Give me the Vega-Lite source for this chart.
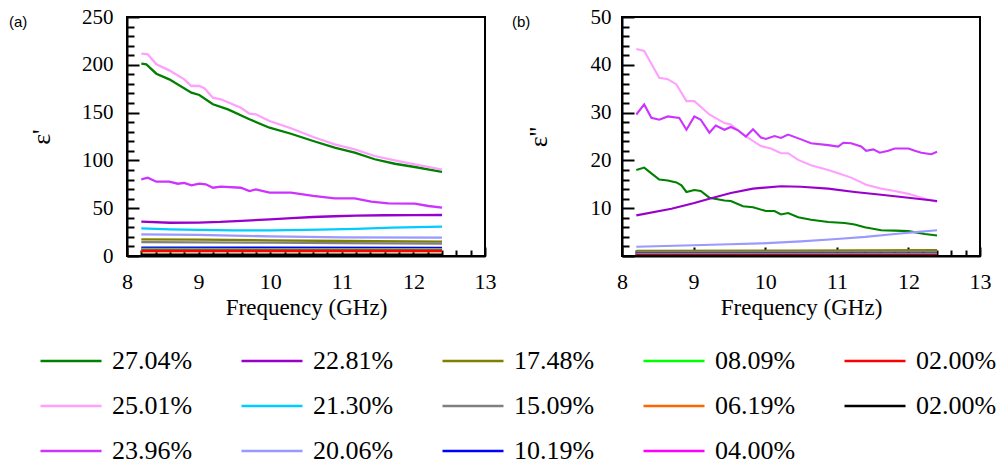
{
  "$schema": "https://vega.github.io/schema/vega-lite/v6.json",
  "autosize": {"type": "pad"},
  "padding": {"left": 8, "top": 5, "right": 0, "bottom": 0},
  "bounds": "flush",
  "spacing": 137,
  "background": "white",
  "datasets": {
    "re": [
      {"s": "27.04%", "f": 8.2, "v": 201.2}, {"s": "27.04%", "f": 8.27, "v": 200.5}, {"s": "27.04%", "f": 8.41, "v": 190.7},
      {"s": "27.04%", "f": 8.59, "v": 184.8}, {"s": "27.04%", "f": 8.9, "v": 170.8}, {"s": "27.04%", "f": 9.01, "v": 168.4},
      {"s": "27.04%", "f": 9.2, "v": 158.7}, {"s": "27.04%", "f": 9.41, "v": 153.4}, {"s": "27.04%", "f": 9.71, "v": 143.0},
      {"s": "27.04%", "f": 9.99, "v": 134.2}, {"s": "27.04%", "f": 10.29, "v": 127.9}, {"s": "27.04%", "f": 10.6, "v": 120.3},
      {"s": "27.04%", "f": 10.9, "v": 113.3}, {"s": "27.04%", "f": 11.18, "v": 108.1}, {"s": "27.04%", "f": 11.46, "v": 101.2},
      {"s": "27.04%", "f": 11.74, "v": 96.5}, {"s": "27.04%", "f": 12.02, "v": 93.1}, {"s": "27.04%", "f": 12.4, "v": 87.9},

      {"s": "25.01%", "f": 8.2, "v": 211.6}, {"s": "25.01%", "f": 8.29, "v": 211.0}, {"s": "25.01%", "f": 8.41, "v": 200.5},
      {"s": "25.01%", "f": 8.59, "v": 194.2}, {"s": "25.01%", "f": 8.8, "v": 184.8}, {"s": "25.01%", "f": 8.9, "v": 177.8},
      {"s": "25.01%", "f": 9.01, "v": 177.8}, {"s": "25.01%", "f": 9.08, "v": 175.4}, {"s": "25.01%", "f": 9.2, "v": 165.6},
      {"s": "25.01%", "f": 9.31, "v": 163.9}, {"s": "25.01%", "f": 9.59, "v": 155.1}, {"s": "25.01%", "f": 9.71, "v": 148.8},
      {"s": "25.01%", "f": 9.8, "v": 148.2}, {"s": "25.01%", "f": 9.99, "v": 141.2}, {"s": "25.01%", "f": 10.29, "v": 133.6},
      {"s": "25.01%", "f": 10.6, "v": 124.5}, {"s": "25.01%", "f": 10.9, "v": 116.8}, {"s": "25.01%", "f": 11.18, "v": 111.6},
      {"s": "25.01%", "f": 11.46, "v": 104.6}, {"s": "25.01%", "f": 11.74, "v": 100.1}, {"s": "25.01%", "f": 12.02, "v": 95.9},
      {"s": "25.01%", "f": 12.4, "v": 90.3},

      {"s": "23.96%", "f": 8.2, "v": 80.2}, {"s": "23.96%", "f": 8.29, "v": 81.9}, {"s": "23.96%", "f": 8.41, "v": 77.7},
      {"s": "23.96%", "f": 8.59, "v": 77.7}, {"s": "23.96%", "f": 8.71, "v": 75.6}, {"s": "23.96%", "f": 8.8, "v": 76.4},
      {"s": "23.96%", "f": 8.9, "v": 73.9}, {"s": "23.96%", "f": 9.01, "v": 75.6}, {"s": "23.96%", "f": 9.1, "v": 75.0},
      {"s": "23.96%", "f": 9.2, "v": 71.4}, {"s": "23.96%", "f": 9.31, "v": 72.5}, {"s": "23.96%", "f": 9.59, "v": 71.4},
      {"s": "23.96%", "f": 9.71, "v": 68.0}, {"s": "23.96%", "f": 9.8, "v": 69.7}, {"s": "23.96%", "f": 9.99, "v": 66.2},
      {"s": "23.96%", "f": 10.29, "v": 66.2}, {"s": "23.96%", "f": 10.6, "v": 62.8}, {"s": "23.96%", "f": 10.9, "v": 60.3},
      {"s": "23.96%", "f": 11.18, "v": 60.3}, {"s": "23.96%", "f": 11.41, "v": 56.8}, {"s": "23.96%", "f": 11.65, "v": 55.1},
      {"s": "23.96%", "f": 12.02, "v": 54.7}, {"s": "23.96%", "f": 12.21, "v": 52.3}, {"s": "23.96%", "f": 12.4, "v": 50.5},

      {"s": "22.81%", "f": 8.2, "v": 35.9}, {"s": "22.81%", "f": 8.6, "v": 34.8}, {"s": "22.81%", "f": 9.0, "v": 35.0},
      {"s": "22.81%", "f": 9.3, "v": 35.6}, {"s": "22.81%", "f": 9.6, "v": 36.8}, {"s": "22.81%", "f": 10.0, "v": 38.4},
      {"s": "22.81%", "f": 10.3, "v": 39.7}, {"s": "22.81%", "f": 10.6, "v": 40.8}, {"s": "22.81%", "f": 10.9, "v": 41.6},
      {"s": "22.81%", "f": 11.2, "v": 42.2}, {"s": "22.81%", "f": 11.6, "v": 42.6}, {"s": "22.81%", "f": 12.0, "v": 42.8},
      {"s": "22.81%", "f": 12.4, "v": 42.9},

      {"s": "21.30%", "f": 8.2, "v": 29.0}, {"s": "21.30%", "f": 8.6, "v": 27.9}, {"s": "21.30%", "f": 9.0, "v": 27.4},
      {"s": "21.30%", "f": 9.5, "v": 26.9}, {"s": "21.30%", "f": 10.0, "v": 26.8}, {"s": "21.30%", "f": 10.7, "v": 27.5},
      {"s": "21.30%", "f": 11.2, "v": 28.4}, {"s": "21.30%", "f": 11.7, "v": 29.6}, {"s": "21.30%", "f": 12.4, "v": 30.7},

      {"s": "20.06%", "f": 8.2, "v": 22.7}, {"s": "20.06%", "f": 9.0, "v": 22.0}, {"s": "20.06%", "f": 10.0, "v": 20.6},
      {"s": "20.06%", "f": 11.0, "v": 19.5}, {"s": "20.06%", "f": 12.4, "v": 19.2},

      {"s": "17.48%", "f": 8.2, "v": 17.4}, {"s": "17.48%", "f": 9.0, "v": 17.1}, {"s": "17.48%", "f": 10.0, "v": 16.4},
      {"s": "17.48%", "f": 11.0, "v": 15.7}, {"s": "17.48%", "f": 12.4, "v": 15.0},

      {"s": "15.09%", "f": 8.2, "v": 14.6}, {"s": "15.09%", "f": 10.0, "v": 14.0}, {"s": "15.09%", "f": 11.0, "v": 13.5},
      {"s": "15.09%", "f": 12.4, "v": 13.0},

      {"s": "10.19%", "f": 8.2, "v": 8.7}, {"s": "10.19%", "f": 12.4, "v": 8.5},
      {"s": "08.09%", "f": 8.2, "v": 7.3}, {"s": "08.09%", "f": 12.4, "v": 7.1},
      {"s": "06.19%", "f": 8.2, "v": 4.9}, {"s": "06.19%", "f": 12.4, "v": 4.8},
      {"s": "04.00%", "f": 8.2, "v": 6.1}, {"s": "04.00%", "f": 12.4, "v": 6.0},
      {"s": "02.00%", "f": 8.2, "v": 5.4}, {"s": "02.00%", "f": 12.4, "v": 5.3},
      {"s": "02.00% ", "f": 8.2, "v": 1.3}, {"s": "02.00% ", "f": 12.4, "v": 1.3}
    ],
    "im": [
      {"s": "27.04%", "f": 8.2, "v": 18.0}, {"s": "27.04%", "f": 8.31, "v": 18.5}, {"s": "27.04%", "f": 8.41, "v": 17.3},
      {"s": "27.04%", "f": 8.52, "v": 16.0}, {"s": "27.04%", "f": 8.64, "v": 15.8}, {"s": "27.04%", "f": 8.76, "v": 15.4},
      {"s": "27.04%", "f": 8.83, "v": 14.8}, {"s": "27.04%", "f": 8.9, "v": 13.4}, {"s": "27.04%", "f": 9.01, "v": 13.8},
      {"s": "27.04%", "f": 9.1, "v": 13.6}, {"s": "27.04%", "f": 9.22, "v": 12.2}, {"s": "27.04%", "f": 9.43, "v": 11.6},
      {"s": "27.04%", "f": 9.52, "v": 11.5}, {"s": "27.04%", "f": 9.69, "v": 10.4}, {"s": "27.04%", "f": 9.83, "v": 10.2},
      {"s": "27.04%", "f": 10.01, "v": 9.4}, {"s": "27.04%", "f": 10.13, "v": 9.4}, {"s": "27.04%", "f": 10.22, "v": 8.7},
      {"s": "27.04%", "f": 10.32, "v": 9.0}, {"s": "27.04%", "f": 10.46, "v": 8.1}, {"s": "27.04%", "f": 10.64, "v": 7.6},
      {"s": "27.04%", "f": 10.88, "v": 7.1}, {"s": "27.04%", "f": 11.11, "v": 6.9}, {"s": "27.04%", "f": 11.25, "v": 6.6},
      {"s": "27.04%", "f": 11.39, "v": 6.0}, {"s": "27.04%", "f": 11.62, "v": 5.4}, {"s": "27.04%", "f": 11.81, "v": 5.3},
      {"s": "27.04%", "f": 12.0, "v": 5.2}, {"s": "27.04%", "f": 12.23, "v": 4.6}, {"s": "27.04%", "f": 12.4, "v": 4.3},

      {"s": "25.01%", "f": 8.2, "v": 43.3}, {"s": "25.01%", "f": 8.31, "v": 42.9}, {"s": "25.01%", "f": 8.52, "v": 37.3},
      {"s": "25.01%", "f": 8.64, "v": 37.0}, {"s": "25.01%", "f": 8.76, "v": 35.9}, {"s": "25.01%", "f": 8.9, "v": 32.4},
      {"s": "25.01%", "f": 9.01, "v": 32.4}, {"s": "25.01%", "f": 9.22, "v": 29.6}, {"s": "25.01%", "f": 9.43, "v": 27.8},
      {"s": "25.01%", "f": 9.52, "v": 27.5}, {"s": "25.01%", "f": 9.73, "v": 25.0}, {"s": "25.01%", "f": 9.94, "v": 23.0},
      {"s": "25.01%", "f": 10.08, "v": 22.5}, {"s": "25.01%", "f": 10.22, "v": 21.5}, {"s": "25.01%", "f": 10.32, "v": 21.5},
      {"s": "25.01%", "f": 10.46, "v": 20.1}, {"s": "25.01%", "f": 10.64, "v": 19.0}, {"s": "25.01%", "f": 10.88, "v": 18.0},
      {"s": "25.01%", "f": 11.02, "v": 17.3}, {"s": "25.01%", "f": 11.2, "v": 16.4}, {"s": "25.01%", "f": 11.41, "v": 14.9},
      {"s": "25.01%", "f": 11.62, "v": 14.1}, {"s": "25.01%", "f": 11.81, "v": 13.6}, {"s": "25.01%", "f": 12.0, "v": 13.0},
      {"s": "25.01%", "f": 12.23, "v": 12.0}, {"s": "25.01%", "f": 12.4, "v": 11.3},

      {"s": "23.96%", "f": 8.2, "v": 29.6}, {"s": "23.96%", "f": 8.31, "v": 31.7}, {"s": "23.96%", "f": 8.41, "v": 28.9},
      {"s": "23.96%", "f": 8.52, "v": 28.5}, {"s": "23.96%", "f": 8.64, "v": 29.2}, {"s": "23.96%", "f": 8.8, "v": 28.9},
      {"s": "23.96%", "f": 8.9, "v": 26.4}, {"s": "23.96%", "f": 9.01, "v": 29.2}, {"s": "23.96%", "f": 9.1, "v": 28.5},
      {"s": "23.96%", "f": 9.22, "v": 25.8}, {"s": "23.96%", "f": 9.31, "v": 27.3}, {"s": "23.96%", "f": 9.43, "v": 26.4},
      {"s": "23.96%", "f": 9.52, "v": 27.0}, {"s": "23.96%", "f": 9.62, "v": 26.3}, {"s": "23.96%", "f": 9.73, "v": 25.0},
      {"s": "23.96%", "f": 9.83, "v": 26.5}, {"s": "23.96%", "f": 9.94, "v": 24.8}, {"s": "23.96%", "f": 10.01, "v": 24.5},
      {"s": "23.96%", "f": 10.13, "v": 25.1}, {"s": "23.96%", "f": 10.22, "v": 24.7}, {"s": "23.96%", "f": 10.32, "v": 25.4},
      {"s": "23.96%", "f": 10.5, "v": 24.4}, {"s": "23.96%", "f": 10.64, "v": 23.6}, {"s": "23.96%", "f": 10.88, "v": 23.2},
      {"s": "23.96%", "f": 11.02, "v": 22.9}, {"s": "23.96%", "f": 11.09, "v": 23.7}, {"s": "23.96%", "f": 11.2, "v": 23.6},
      {"s": "23.96%", "f": 11.34, "v": 22.9}, {"s": "23.96%", "f": 11.41, "v": 22.0}, {"s": "23.96%", "f": 11.51, "v": 22.3},
      {"s": "23.96%", "f": 11.6, "v": 21.6}, {"s": "23.96%", "f": 11.72, "v": 22.0}, {"s": "23.96%", "f": 11.81, "v": 22.5},
      {"s": "23.96%", "f": 12.0, "v": 22.5}, {"s": "23.96%", "f": 12.09, "v": 22.0}, {"s": "23.96%", "f": 12.18, "v": 21.6},
      {"s": "23.96%", "f": 12.32, "v": 21.3}, {"s": "23.96%", "f": 12.4, "v": 21.8},

      {"s": "22.81%", "f": 8.2, "v": 8.5}, {"s": "22.81%", "f": 8.69, "v": 9.9}, {"s": "22.81%", "f": 9.01, "v": 11.1},
      {"s": "22.81%", "f": 9.22, "v": 12.0}, {"s": "22.81%", "f": 9.52, "v": 13.2}, {"s": "22.81%", "f": 9.83, "v": 14.1},
      {"s": "22.81%", "f": 10.22, "v": 14.6}, {"s": "22.81%", "f": 10.5, "v": 14.5}, {"s": "22.81%", "f": 10.88, "v": 14.1},
      {"s": "22.81%", "f": 11.25, "v": 13.4}, {"s": "22.81%", "f": 11.62, "v": 12.8}, {"s": "22.81%", "f": 12.0, "v": 12.2},
      {"s": "22.81%", "f": 12.4, "v": 11.5},

      {"s": "21.30%", "f": 8.2, "v": 1.0}, {"s": "21.30%", "f": 10.3, "v": 1.0}, {"s": "21.30%", "f": 12.4, "v": 1.05},

      {"s": "20.06%", "f": 8.2, "v": 1.95}, {"s": "20.06%", "f": 8.6, "v": 2.1}, {"s": "20.06%", "f": 9.0, "v": 2.25},
      {"s": "20.06%", "f": 9.5, "v": 2.45}, {"s": "20.06%", "f": 9.94, "v": 2.64}, {"s": "20.06%", "f": 10.5, "v": 3.05},
      {"s": "20.06%", "f": 11.0, "v": 3.55}, {"s": "20.06%", "f": 11.4, "v": 4.0}, {"s": "20.06%", "f": 11.81, "v": 4.6},
      {"s": "20.06%", "f": 12.1, "v": 5.0}, {"s": "20.06%", "f": 12.4, "v": 5.4},

      {"s": "17.48%", "f": 8.2, "v": 1.1}, {"s": "17.48%", "f": 10.3, "v": 1.15}, {"s": "17.48%", "f": 12.4, "v": 1.25},
      {"s": "15.09%", "f": 8.2, "v": 0.85}, {"s": "15.09%", "f": 12.4, "v": 0.9},
      {"s": "10.19%", "f": 8.2, "v": 0.5}, {"s": "10.19%", "f": 12.4, "v": 0.5},
      {"s": "08.09%", "f": 8.2, "v": 0.4}, {"s": "08.09%", "f": 12.4, "v": 0.4},
      {"s": "06.19%", "f": 8.2, "v": 0.3}, {"s": "06.19%", "f": 12.4, "v": 0.3},
      {"s": "04.00%", "f": 8.2, "v": 0.25}, {"s": "04.00%", "f": 12.4, "v": 0.25},
      {"s": "02.00%", "f": 8.2, "v": 0.15}, {"s": "02.00%", "f": 12.4, "v": 0.15},
      {"s": "02.00% ", "f": 8.2, "v": 0.05}, {"s": "02.00% ", "f": 12.4, "v": 0.05}
    ]
  },
  "hconcat": [
    {
      "width": 358,
      "height": 239,
      "title": {"text": "(a)", "anchor": "start", "frame": "group", "dx": -118, "dy": 31, "baseline": "middle", "offset": 0, "font": "Liberation Sans", "fontSize": 15, "fontWeight": "normal", "color": "black"},
      "data": {"name": "re"},
      "mark": {"type": "line", "strokeWidth": 2.3, "clip": true},
      "encoding": {
        "x": {
          "field": "f", "type": "quantitative",
          "scale": {"domain": [8, 13], "nice": false, "zero": false},
          "axis": {
            "title": "Frequency (GHz)",
            "values": [8, 8.2, 8.4, 8.6, 8.8, 9, 9.2, 9.4, 9.6, 9.8, 10, 10.2, 10.4, 10.6, 10.8, 11, 11.2, 11.4, 11.6, 11.8, 12, 12.2, 12.4, 12.6, 12.8, 13],
            "labelExpr": "abs(datum.value - round(datum.value)) < 0.01 ? format(datum.value, 'd') : ''",
            "tickSize": {"condition": {"test": "abs(datum.value - round(datum.value)) < 0.01", "value": -9}, "value": -6}
          }
        },
        "y": {
          "field": "v", "type": "quantitative",
          "scale": {"domain": [0, 250], "nice": false},
          "axis": {
            "title": "ε'",
            "titlePadding": 27,
            "labelPadding": 26,
            "values": [0, 10, 20, 30, 40, 50, 60, 70, 80, 90, 100, 110, 120, 130, 140, 150, 160, 170, 180, 190, 200, 210, 220, 230, 240, 250],
            "labelExpr": "datum.value % 50 === 0 ? format(datum.value, 'd') : ''",
            "tickSize": {"condition": {"test": "datum.value % 50 === 0", "value": -12}, "value": -7}
          }
        },
        "color": {
          "field": "s", "type": "nominal",
          "scale": {
            "domain": ["27.04%", "25.01%", "23.96%", "22.81%", "21.30%", "20.06%", "17.48%", "15.09%", "10.19%", "08.09%", "06.19%", "04.00%", "02.00%", "02.00% "],
            "range": ["#008000", "#ffa0ff", "#cc33ff", "#9900cc", "#00ccff", "#9999ff", "#808000", "#808080", "#0000ff", "#00ff00", "#ff6600", "#ff00ff", "#ff0000", "#000000"]
          },
          "legend": {"orient": "none", "legendX": -88, "legendY": 312, "columns": 5, "title": null}
        }
      }
    },
    {
      "width": 358,
      "height": 239,
      "title": {"text": "(b)", "anchor": "start", "frame": "group", "dx": -110, "dy": 31, "baseline": "middle", "offset": 0, "font": "Liberation Sans", "fontSize": 15, "fontWeight": "normal", "color": "black"},
      "data": {"name": "im"},
      "mark": {"type": "line", "strokeWidth": 2.1, "clip": true},
      "encoding": {
        "x": {
          "field": "f", "type": "quantitative",
          "scale": {"domain": [8, 13], "nice": false, "zero": false},
          "axis": {
            "title": "Frequency (GHz)",
            "values": [8, 8.2, 8.4, 8.6, 8.8, 9, 9.2, 9.4, 9.6, 9.8, 10, 10.2, 10.4, 10.6, 10.8, 11, 11.2, 11.4, 11.6, 11.8, 12, 12.2, 12.4, 12.6, 12.8, 13],
            "labelExpr": "abs(datum.value - round(datum.value)) < 0.01 ? format(datum.value, 'd') : ''",
            "tickSize": {"condition": {"test": "abs(datum.value - round(datum.value)) < 0.01", "value": -9}, "value": -6}
          }
        },
        "y": {
          "field": "v", "type": "quantitative",
          "scale": {"domain": [0, 50], "nice": false},
          "axis": {
            "title": "ε''",
            "titlePadding": 39,
            "labelPadding": 23,
            "values": [0, 2, 4, 6, 8, 10, 12, 14, 16, 18, 20, 22, 24, 26, 28, 30, 32, 34, 36, 38, 40, 42, 44, 46, 48, 50],
            "labelExpr": "datum.value % 10 === 0 && datum.value > 0 ? format(datum.value, 'd') : ''",
            "tickSize": {"condition": {"test": "datum.value % 10 === 0", "value": -12}, "value": -7}
          }
        },
        "color": {"field": "s", "type": "nominal"}
      }
    }
  ],
  "config": {
    "font": "Liberation Serif",
    "view": {"stroke": "black", "strokeWidth": 2},
    "axis": {
      "domainColor": "black", "domainWidth": 2,
      "tickColor": "black", "tickWidth": 2,
      "grid": false,
      "labelFont": "Liberation Serif", "labelFontSize": 22, "labelColor": "black",
      "labelOverlap": false, "labelFlush": false,
      "titleFont": "Liberation Serif", "titleFontSize": 23, "titleFontWeight": "normal", "titleColor": "black"
    },
    "axisX": {"labelPadding": 24, "titlePadding": 1},
    "axisY": {"labelFontSize": 21, "titleFontSize": 26},
    "legend": {
      "symbolType": "stroke", "symbolSize": 3721, "symbolStrokeWidth": 2.5,
      "labelFont": "Liberation Serif", "labelFontSize": 26, "labelColor": "black", "labelOffset": 9,
      "columnPadding": 43, "rowPadding": -16, "gridAlign": "all", "labelLimit": 300
    }
  }
}
